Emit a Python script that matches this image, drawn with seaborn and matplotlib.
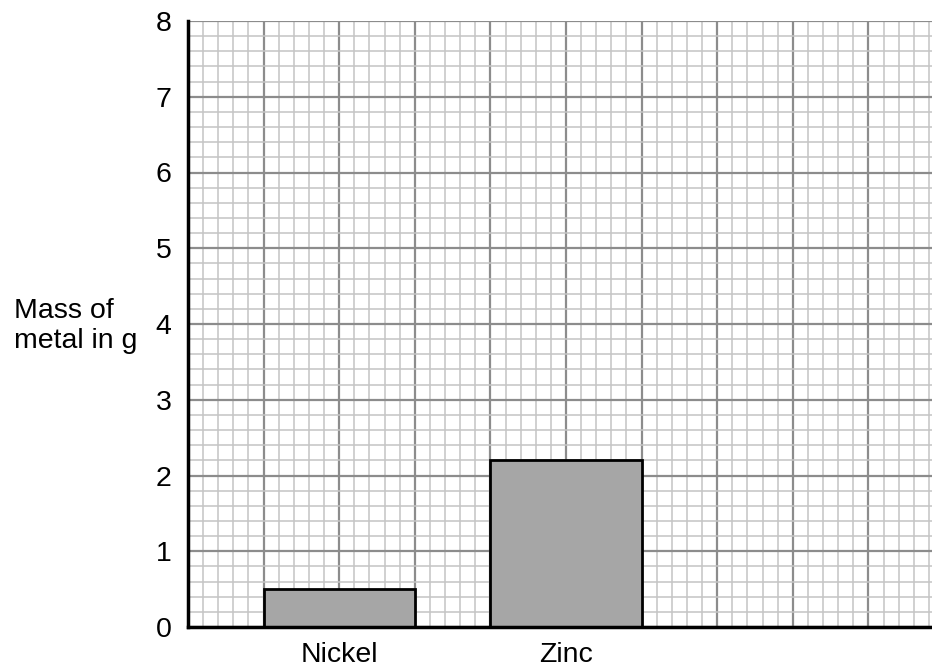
import numpy as np
import matplotlib
matplotlib.use("Agg")
import matplotlib.pyplot as plt
import seaborn as sns

metals = ["Nickel", "Zinc"]
masses = [0.5, 2.2]
y_ticks = [0, 1, 2, 3, 4, 5, 6, 7, 8]

sns.set_style("white")
plt.rcParams['font.family'] = ['Liberation Sans', 'DejaVu Sans']
plt.rcParams['text.color'] = 'black'
plt.rcParams['xtick.color'] = 'black'
plt.rcParams['ytick.color'] = 'black'

fig = plt.figure(figsize=(9.32, 6.68), dpi=100)
ax = fig.add_axes([188 / 932, 41 / 668, 1 - 188 / 932, (627 - 21) / 668])

# graph paper: one big square = 1/3 of a category step, 5 small squares in each
x_left = -2 / 3
x_right = x_left + (932 - 188) / (3 * 75.6)
for i, xv in enumerate(np.arange(x_left, x_right + 1e-9, 1 / 15)):
    major = i % 5 == 0
    ax.axvline(xv, color="#8c8c8c" if major else "#c4c4c4",
               lw=1.6 if major else 1.1, zorder=0)
for i, yv in enumerate(np.arange(0, 8.0001, 0.2)):
    major = i % 5 == 0
    ax.axhline(yv, color="#8c8c8c" if major else "#c4c4c4",
               lw=1.6 if major else 1.1, zorder=0)

sns.barplot(x=metals, y=masses, color="#a6a6a6", saturation=1,
            edgecolor="black", linewidth=2, width=2 / 3, ax=ax, zorder=3)

ax.set_xlim(x_left, x_right)
ax.set_ylim(0, 8)
ax.set_yticks(y_ticks)
ax.set_yticklabels([str(v) for v in y_ticks], fontsize=20.5)
ax.tick_params(axis="y", direction="out", length=8, width=1.2, color="black",
               labelcolor="black", pad=4)
ax.tick_params(axis="x", length=0, labelsize=20.5, labelcolor="black", pad=11)
ax.set_xlabel("")
ax.set_ylabel("")

for side in ["top", "right"]:
    ax.spines[side].set_visible(False)
for side in ["left", "bottom"]:
    ax.spines[side].set_color("black")
    ax.spines[side].set_linewidth(2.5)
    ax.spines[side].set_zorder(5)

fig.text(14 / 932, 1 - 326 / 668, "Mass of\nmetal in g", fontsize=20.5,
         color="black", ha="left", va="center", linespacing=1.15)

fig.savefig("out.png", dpi=100)
